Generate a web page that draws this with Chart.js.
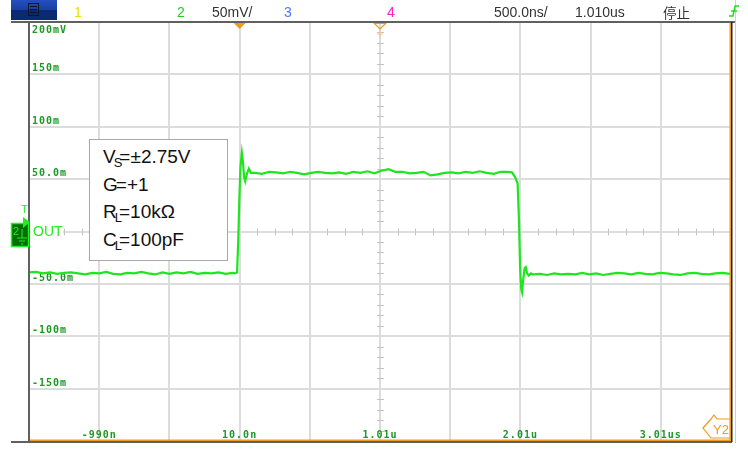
<!DOCTYPE html>
<html>
<head>
<meta charset="utf-8">
<script src="https://cdn.jsdelivr.net/npm/chart.js@4.4.1/dist/chart.umd.min.js"></script>
<style>
  body { margin: 0; background: #fff; }
  #wrap { position: relative; width: 748px; height: 451px; overflow: hidden; font-family: 'Liberation Sans', Arial, sans-serif; }
  #scope { position: absolute; left: 0; top: 0; }
  .hd { position: absolute; top: 4px; font-size: 14px; line-height: 16px; color: #333; white-space: nowrap; }
  #menuBtn { position: absolute; left: 11px; top: 0; width: 46px; height: 20px; background: linear-gradient(#2350c0 0%, #1a3f9e 50%, #0c2a72 52%, #0c2a72 100%); }
  #menuBtn i { position: absolute; left: 17px; top: 3px; width: 11px; height: 13px; border: 1px solid #0a1530; box-sizing: border-box; }
  #menuBtn b { position: absolute; left: 19px; width: 7px; height: 1px; background: #0a1530; }
  #note { position: absolute; left: 89px; top: 139px; width: 139px; height: 122px; box-sizing: border-box; border: 1px solid #a8a8a8; background: #fff; padding: 3px 0 0 13px; font-size: 19px; line-height: 27.5px; color: #111; }
  #note sub { font-size: 13px; vertical-align: -4px; line-height: 0; margin-left: -2px; margin-right: -3px; }
</style>
</head>
<body>
<div id="wrap">
  <canvas id="scope" width="748" height="451"></canvas>
  <div id="menuBtn"><i></i><b style="top:6px"></b><b style="top:9px"></b><b style="top:12px"></b></div>
  <span class="hd" style="left:74px;color:#e4e400">1</span>
  <span class="hd" style="left:177px;color:#22cc22">2</span>
  <span class="hd" style="left:212px">50mV/</span>
  <span class="hd" style="left:284px;color:#4a78ff">3</span>
  <span class="hd" style="left:387px;color:#ff22c4">4</span>
  <span class="hd" style="left:494px">500.0ns/</span>
  <span class="hd" style="left:575px">1.010us</span>
  <span class="hd" style="left:663px;font-family:'Noto Sans CJK SC';font-size:13.5px">停止</span>
  <div id="note">
    <div>V<sub>S</sub>=±2.75V</div>
    <div>G<span style="margin-left:-2px">=+1</span></div>
    <div>R<sub>L</sub>=10kΩ</div>
    <div>C<sub>L</sub>=100pF</div>
  </div>
</div>
<script>
// Traza del canal 2 (OUT): tiempo en ns, tensión en mV
const traceTimeNs = [
  -1490, -1440, -1390, -1340, -1290, -1240, -1190, -1140, -1090, -1040,
  -990, -940, -890, -840, -790, -740, -690, -640, -590, -540,
  -490, -440, -390, -340, -290, -240, -190, -140, -90, -40,
  -20, -8, 0, 8, 16, 26, 34, 42, 50, 62, 76, 90,
  120, 170, 220, 270, 320, 370, 420, 470, 520, 570,
  620, 670, 720, 770, 820, 870, 920, 970, 1020, 1070,
  1120, 1170, 1220, 1270, 1320, 1370, 1420, 1470, 1520, 1570,
  1620, 1670, 1720, 1770, 1820, 1870, 1920, 1950,
  1972, 1990, 2000, 2008, 2016, 2022, 2030, 2040, 2048, 2058, 2070, 2085,
  2100, 2150, 2200, 2250, 2300, 2350, 2400, 2450, 2500, 2550,
  2600, 2650, 2700, 2750, 2800, 2850, 2900, 2950, 3000, 3050,
  3100, 3150, 3200, 3250, 3300, 3350, 3400, 3450, 3500, 3510,
]
const traceMv = [
  -39, -38.5, -40, -39, -40.5, -39.5, -39, -40, -41, -39.5,
  -40, -38.5, -40.5, -41, -39.5, -40, -38.5, -40, -41, -39,
  -40.5, -39, -40, -38.5, -40.5, -39.5, -40, -39, -40.5, -39.5,
  -40, -39, -10, 30, 62, 75, 66, 52, 48, 55, 60, 56,
  56, 55, 57, 56.5, 55.5, 57, 56, 54.5, 56, 57,
  56, 55.5, 56.5, 55, 57, 56, 57.5, 55.5, 58, 59.5,
  57, 57, 55.5, 56, 57, 53.5, 54.5, 56, 56.5, 55.5,
  57, 56, 57.5, 56, 55, 57, 57, 56.5,
  52, 46, 10, -35, -55, -58, -46, -35, -34, -40, -42, -40,
  -41, -40.5, -41.5, -40, -41, -40.5, -41, -39.5, -41, -40,
  -41.5, -40.5, -39.5, -40, -41, -39.5, -40.5, -41, -39.5, -40,
  -41, -41.5, -40, -39.5, -40.5, -41, -40, -39.5, -40.5, -40,
]

// Retícula: 10 divisiones de 500 ns, 8 divisiones de 50 mV
const timeGridNs = [-1490, -990, -490, 10, 510, 1010, 1510, 2010, 2510, 3010, 3510]
const timeLabelValues = [-990, 10, 1010, 2010, 3010]
const timeLabels = ['-990n', '10.0n', '1.01u', '2.01u', '3.01us']
const voltGridMv = [-200, -150, -100, -50, 0, 50, 100, 150, 200]
const voltLabelValues = [200, 150, 100, 50, -50, -100, -150]
const voltLabels = ['200mV', '150m', '100m', '50.0m', '-50.0m', '-100m', '-150m']

const LABEL_GREEN = '#1c9a24'
const ORANGE = '#f09a1a'

const scopeDecor = {
  id: 'scopeDecor',
  beforeDatasetsDraw(chart) {
    const { ctx, chartArea: a, scales: { x, y } } = chart
    const y0 = y.getPixelForValue(0)
    const xc = x.getPixelForValue(1010)
    ctx.save()
    // subdivisiones en los ejes centrales
    ctx.strokeStyle = '#c4c4c4'
    ctx.lineWidth = 1
    ctx.beginPath()
    for (let i = 0; i < timeGridNs.length - 1; i++) {
      for (let k = 1; k < 4; k++) {
        const px = Math.round(x.getPixelForValue(timeGridNs[i] + k * 125)) + 0.5
        ctx.moveTo(px, y0 - 3); ctx.lineTo(px, y0 + 4)
      }
    }
    for (let i = 0; i < voltGridMv.length - 1; i++) {
      for (let k = 1; k < 5; k++) {
        const py = Math.round(y.getPixelForValue(voltGridMv[i] + k * 10)) + 0.5
        ctx.moveTo(xc - 3, py); ctx.lineTo(xc + 4, py)
      }
    }
    ctx.stroke()

    // etiquetas de la retícula
    ctx.font = 'bold 10px "DejaVu Sans Mono"'
    ctx.letterSpacing = '1px'
    ctx.fillStyle = LABEL_GREEN
    ctx.textAlign = 'left'
    voltLabelValues.forEach((v, i) => {
      const py = y.getPixelForValue(v)
      if (v === 200) { ctx.textBaseline = 'top'; ctx.fillText(voltLabels[i], a.left + 3, py + 3) }
      else { ctx.textBaseline = 'bottom'; ctx.fillText(voltLabels[i], a.left + 3, py - 0.5) }
    })
    ctx.textAlign = 'center'
    ctx.textBaseline = 'bottom'
    timeLabelValues.forEach((v, i) => {
      ctx.fillText(timeLabels[i], x.getPixelForValue(v), a.bottom - 1)
    })
    ctx.restore()
  },
  afterDraw(chart) {
    const { ctx, chartArea: a, scales: { x, y } } = chart
    ctx.save()
    // marco
    ctx.fillStyle = '#606060'
    ctx.fillRect(11, a.top - 1, 725, 2)
    ctx.fillRect(a.left - 1, a.top - 1, 2, a.bottom - a.top + 2)
    ctx.fillRect(11, a.bottom, a.right - 11 + 1, 2)
    ctx.fillStyle = '#222'
    ctx.fillRect(a.right, a.top, 1.5, a.bottom - a.top + 1)
    ctx.fillStyle = '#d0d0d0'
    ctx.fillRect(735, 0, 1, a.bottom + 2)
    ctx.fillStyle = ORANGE
    ctx.fillRect(a.left + 1, a.bottom - 1.5, a.right - a.left - 1, 1.5)
    ctx.fillRect(a.right - 1.5, a.top + 1, 1.5, a.bottom - a.top - 1)

    // marcadores de disparo arriba
    const tx = x.getPixelForValue(10)
    ctx.beginPath(); ctx.moveTo(tx - 6, a.top + 1); ctx.lineTo(tx + 6, a.top + 1); ctx.lineTo(tx, a.top + 7); ctx.closePath(); ctx.fill()
    const cx = x.getPixelForValue(1010)
    ctx.strokeStyle = ORANGE; ctx.lineWidth = 1.2
    ctx.beginPath(); ctx.moveTo(cx - 5.5, a.top + 1.5); ctx.lineTo(cx + 5.5, a.top + 1.5); ctx.lineTo(cx, a.top + 7); ctx.closePath(); ctx.stroke()
    ctx.strokeStyle = '#f3c890'
    ctx.beginPath(); ctx.moveTo(cx, a.top + 7); ctx.lineTo(cx, a.top + 16); ctx.moveTo(cx - 3, a.top + 12); ctx.lineTo(cx + 3, a.top + 12); ctx.stroke()

    // marcador Y2
    ctx.strokeStyle = ORANGE; ctx.lineWidth = 1.2
    ctx.fillStyle = '#fff'
    ctx.beginPath()
    ctx.moveTo(703, 428); ctx.lineTo(711, 419); ctx.lineTo(714, 415); ctx.lineTo(717, 419)
    ctx.lineTo(a.right - 1, 419); ctx.lineTo(a.right - 1, 438); ctx.lineTo(711, 438); ctx.closePath()
    ctx.fill(); ctx.stroke()
    ctx.fillStyle = ORANGE
    ctx.font = '13px "Liberation Sans"'
    ctx.textAlign = 'left'; ctx.textBaseline = 'alphabetic'
    ctx.fillText('Y2', 713, 434)

    // referencia del canal 2
    const y0 = y.getPixelForValue(0)
    ctx.fillStyle = '#fff'
    ctx.fillRect(a.left + 2, y0 - 7, 32, 14)
    ctx.fillStyle = '#22ee22'
    ctx.font = '14px "Liberation Sans"'
    ctx.textBaseline = 'middle'
    ctx.fillText('OUT', a.left + 4, y0 + 0.5)
    ctx.font = '11px "Liberation Sans"'
    ctx.fillText('T', 21, 210)
    ctx.fillStyle = '#006e00'
    ctx.fillRect(11, 223, 18, 24)
    ctx.strokeStyle = '#22ee22'; ctx.lineWidth = 1.5
    ctx.strokeRect(11.5, 223.5, 17, 23)
    ctx.fillStyle = '#22ee22'
    ctx.beginPath(); ctx.moveTo(23, 217); ctx.lineTo(30, 222); ctx.lineTo(23, 228); ctx.closePath(); ctx.fill()
    ctx.font = '11px "Liberation Sans"'
    ctx.fillText('2', 13, 232)
    ctx.beginPath()
    ctx.moveTo(22, 229); ctx.lineTo(22, 238)
    ctx.moveTo(17, 238); ctx.lineTo(27, 238)
    ctx.moveTo(19, 241); ctx.lineTo(25, 241)
    ctx.moveTo(21, 244); ctx.lineTo(23, 244)
    ctx.lineWidth = 1; ctx.stroke()

    // icono de disparo
    ctx.strokeStyle = '#22dd22'; ctx.lineWidth = 1.5
    ctx.beginPath(); ctx.moveTo(729, 16); ctx.lineTo(733, 16); ctx.lineTo(735, 6); ctx.lineTo(739, 6); ctx.stroke()
    ctx.beginPath(); ctx.moveTo(731, 11); ctx.lineTo(737, 11); ctx.stroke()
    ctx.restore()
  },
}

new Chart(document.getElementById('scope'), {
  type: 'line',
  data: {
    datasets: [{
      label: 'OUT',
      data: traceTimeNs.map((t, i) => ({ x: t, y: traceMv[i] })),
      borderColor: '#1ee61e',
      borderWidth: 2.2,
      pointRadius: 0,
      tension: 0,
    }],
  },
  options: {
    responsive: false,
    animation: false,
    events: [],
    layout: { padding: { left: 29, top: 22, right: 17, bottom: 10 } },
    plugins: { legend: { display: false }, tooltip: { enabled: false } },
    scales: {
      x: {
        type: 'linear',
        min: -1490,
        max: 3510,
        afterBuildTicks: (s) => { s.ticks = timeGridNs.map((v) => ({ value: v })) },
        ticks: { display: false },
        grid: { color: '#dcdcdc', lineWidth: 2, drawTicks: false },
        border: { display: false },
      },
      y: {
        min: -200,
        max: 200,
        afterBuildTicks: (s) => { s.ticks = voltGridMv.map((v) => ({ value: v })) },
        ticks: { display: false },
        grid: { color: '#dcdcdc', lineWidth: 2, drawTicks: false },
        border: { display: false },
      },
    },
  },
  plugins: [scopeDecor],
})
</script>
</body>
</html>
